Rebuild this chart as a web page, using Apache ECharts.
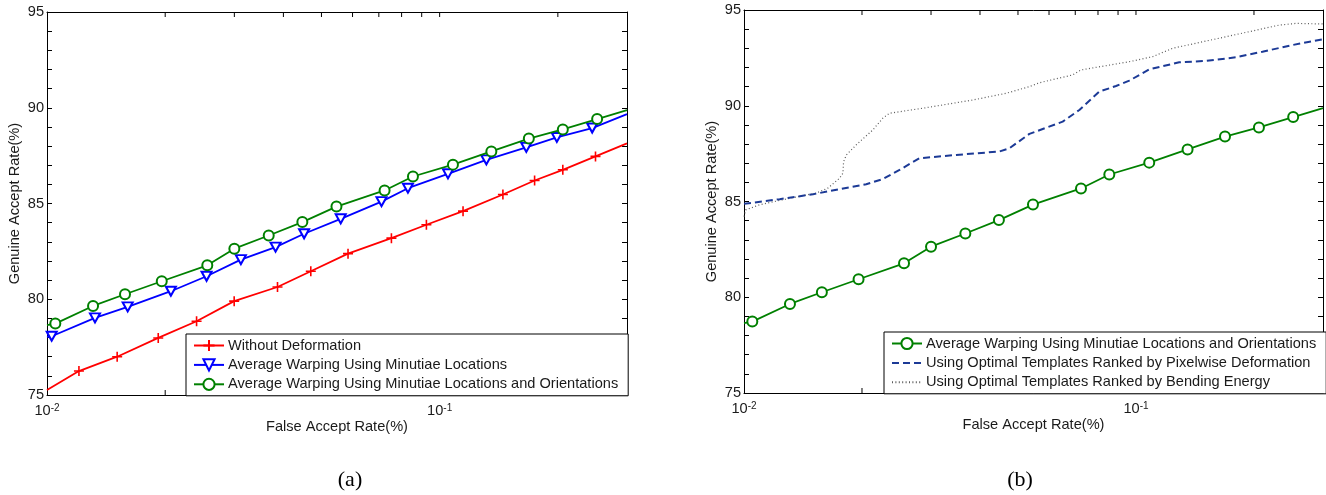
<!DOCTYPE html>
<html>
<head>
<meta charset="utf-8">
<script src="https://cdn.jsdelivr.net/npm/echarts@6/dist/echarts.min.js"></script>
<style>
html,body{margin:0;padding:0;background:#fff;}
#chart{width:1326px;height:495px;}
</style>
</head>
<body>
<div id="chart"></div>
<script>
// ---------- data ----------
const nameRed = 'Without Deformation';
const nameBlue = 'Average Warping Using Minutiae Locations';
const nameGreen = 'Average Warping Using Minutiae Locations and Orientations';
const nameDash = 'Using Optimal Templates Ranked by Pixelwise Deformation';
const nameDot = 'Using Optimal Templates Ranked by Bending Energy';

const farRed = [0.01, 0.01206, 0.01509, 0.0192, 0.02404, 0.02997, 0.03864, 0.04697, 0.05843, 0.07536, 0.09252, 0.1147, 0.1449, 0.1745, 0.2059, 0.2494, 0.3];
const garRed = [75.26, 76.25, 77.0, 77.98, 78.85, 79.9, 80.64, 81.46, 82.38, 83.19, 83.89, 84.6, 85.47, 86.2, 86.76, 87.46, 88.14];

const farBlue = [0.01, 0.01028, 0.01325, 0.01605, 0.02068, 0.02549, 0.03117, 0.0382, 0.04516, 0.05598, 0.0711, 0.08302, 0.105, 0.1315, 0.1662, 0.1988, 0.2446, 0.3];
const garBlue = [78.03, 78.07, 79.03, 79.6, 80.42, 81.2, 82.07, 82.72, 83.42, 84.2, 85.1, 85.8, 86.55, 87.28, 87.93, 88.45, 88.94, 89.67];

const farGreen = [0.01, 0.0105, 0.0131, 0.0158, 0.0196, 0.0256, 0.0300, 0.0367, 0.0447, 0.0546, 0.0724, 0.0855, 0.1081, 0.1354, 0.1687, 0.2059, 0.2518, 0.3];
const garGreen = [78.65, 78.73, 79.65, 80.26, 80.94, 81.77, 82.64, 83.33, 84.03, 84.84, 85.68, 86.41, 87.03, 87.72, 88.39, 88.87, 89.41, 89.88];

const farDash = [0.01, 0.01233, 0.015, 0.01754, 0.0205, 0.0226, 0.02494, 0.02803, 0.03477, 0.04483, 0.04754, 0.05347, 0.06502, 0.07171, 0.08062, 0.08894, 0.09615, 0.1081, 0.1289, 0.1508, 0.1798, 0.2102, 0.2506, 0.3];
const garDash = [84.88, 85.12, 85.38, 85.64, 85.9, 86.17, 86.65, 87.26, 87.43, 87.61, 87.78, 88.53, 89.17, 89.78, 90.74, 91.03, 91.31, 91.9, 92.27, 92.34, 92.53, 92.82, 93.17, 93.47];

const farDot = [0.01, 0.0101, 0.01096, 0.01308, 0.01529, 0.01637, 0.01754, 0.01788, 0.01795, 0.01824, 0.01934, 0.02132, 0.0226, 0.02351, 0.02858, 0.03834, 0.04664, 0.05347, 0.05669, 0.06895, 0.07243, 0.09615, 0.1102, 0.124, 0.1729, 0.2318, 0.2557, 0.3];
const garDot = [84.21, 84.56, 84.83, 85.17, 85.44, 85.7, 86.22, 86.48, 87.08, 87.43, 87.96, 88.74, 89.35, 89.61, 89.87, 90.3, 90.65, 91.0, 91.2, 91.61, 91.87, 92.3, 92.56, 93.0, 93.64, 94.21, 94.3, 94.27];

const xMin = 0.01, xMax = 0.3;
const yMin = 75, yMax = 95, yStep = 5;
const xTickValues = [0.02, 0.03, 0.04, 0.05, 0.06, 0.07, 0.08, 0.09, 0.1, 0.2];

// ---------- helpers ----------
const FONT = '"Liberation Sans", Arial, Helvetica, sans-serif';
const FS = 14.6;
const TXT = '#1a1a1a';

function pairs(xs, ys, endsPlain) {
  return xs.map((x, i) => {
    if (endsPlain && (i === 0 || i === xs.length - 1)) {
      return { value: [x, ys[i]], symbol: 'none' };
    }
    return [x, ys[i]];
  });
}

function logLabel(v) {
  const e = Math.log10(v);
  const r = Math.round(e);
  if (Math.abs(e - r) < 1e-6) return '{b|10}{s|' + r + '}';
  return '';
}

function tickRender(params, api) {
  const x = api.value(0);
  const b = api.coord([x, yMin]);
  const t = api.coord([x, yMax]);
  return {
    type: 'group',
    children: [
      { type: 'line', shape: { x1: b[0], y1: b[1], x2: b[0], y2: b[1] - 5 }, style: { stroke: '#000', lineWidth: 1 } },
      { type: 'line', shape: { x1: t[0], y1: t[1], x2: t[0], y2: t[1] + 5 }, style: { stroke: '#000', lineWidth: 1 } }
    ]
  };
}

function xAxes(gridIndex) {
  return [
    {
      type: 'log', logBase: 10, gridIndex: gridIndex, min: xMin, max: xMax, position: 'bottom',
      axisLine: { show: true, lineStyle: { color: '#000', width: 1 } },
      axisTick: { show: false },
      splitLine: { show: false },
      axisLabel: {
        show: true, margin: 8, formatter: logLabel, color: TXT,
        rich: {
          b: { fontSize: FS, fontFamily: FONT, color: TXT, lineHeight: 26, verticalAlign: 'top' },
          s: { fontSize: 10, fontFamily: FONT, color: TXT, lineHeight: 10, verticalAlign: 'top' }
        }
      },
      name: 'False Accept Rate(%)', nameLocation: 'middle', nameGap: 24, nameMoveOverlap: false,
      nameTextStyle: { fontSize: FS, fontFamily: FONT, color: TXT }
    },
    {
      type: 'log', logBase: 10, gridIndex: gridIndex, min: xMin, max: xMax, position: 'top',
      axisLine: { show: true, lineStyle: { color: '#000', width: 1 } },
      axisTick: { show: false }, axisLabel: { show: false }, splitLine: { show: false }
    }
  ];
}

function yAxes(gridIndex) {
  const common = {
    type: 'value', gridIndex: gridIndex, min: yMin, max: yMax, interval: yStep,
    axisLine: { show: true, lineStyle: { color: '#000', width: 1 } },
    axisTick: { show: true, inside: true, length: 5, lineStyle: { color: '#000', width: 1 } },
    minorTick: { show: true, splitNumber: 5, length: 5, lineStyle: { color: '#000', width: 1 } },
    splitLine: { show: false }, minorSplitLine: { show: false }
  };
  return [
    Object.assign({}, common, {
      position: 'left',
      axisLabel: { show: true, margin: 3, fontSize: FS, fontFamily: FONT, color: TXT },
      name: 'Genuine Accept Rate(%)', nameLocation: 'middle', nameGap: 25, nameRotate: 90,
      nameTextStyle: { fontSize: FS, fontFamily: FONT, color: TXT }
    }),
    Object.assign({}, common, { position: 'right', axisLabel: { show: false } })
  ];
}

function legendCfg(items, left, top) {
  return {
    data: items, orient: 'vertical', left: left, top: top,
    itemWidth: 30, itemHeight: 14, itemGap: 4.4,
    padding: [4, 10, 4, 7],
    borderColor: '#000', borderWidth: 1, borderRadius: 0, backgroundColor: '#fff',
    selectedMode: false,
    textStyle: { fontSize: FS, fontFamily: FONT, color: TXT, padding: [0, 0, 0, -1] }
  };
}

const plusPath = 'path://M5 0 L5 10 M0 5 L10 5';

function seriesRed(xi, yi) {
  return { name: nameRed, type: 'line', xAxisIndex: xi, yAxisIndex: yi, data: pairs(farRed, garRed, true),
    symbol: plusPath, symbolSize: 10, showAllSymbol: true, z: 3,
    lineStyle: { color: '#ff0000', width: 1.8 },
    itemStyle: { color: '#ff0000', borderColor: '#ff0000', borderWidth: 1.6 } };
}
function seriesBlue(xi, yi) {
  return { name: nameBlue, type: 'line', xAxisIndex: xi, yAxisIndex: yi, data: pairs(farBlue, garBlue, true),
    symbol: 'emptyTriangle', symbolRotate: 180, symbolSize: [10, 9], showAllSymbol: true, z: 3,
    lineStyle: { color: '#0000ff', width: 1.8 },
    itemStyle: { color: '#0000ff', borderColor: '#0000ff', borderWidth: 1.4 } };
}
function seriesGreen(xi, yi) {
  return { name: nameGreen, type: 'line', xAxisIndex: xi, yAxisIndex: yi, data: pairs(farGreen, garGreen, true),
    symbol: 'emptyCircle', symbolSize: 10, showAllSymbol: true, z: 4,
    lineStyle: { color: '#008000', width: 1.8 },
    itemStyle: { color: '#008000', borderColor: '#008000', borderWidth: 1.6 } };
}

const option = {
  animation: false,
  backgroundColor: '#fff',
  textStyle: { fontFamily: FONT },
  grid: [
    { left: 47, top: 12, width: 580, height: 383, containLabel: false },
    { left: 744, top: 10, width: 581, height: 383, containLabel: false }
  ],
  xAxis: [].concat(xAxes(0), xAxes(1)),
  yAxis: [].concat(yAxes(0), yAxes(1)),
  legend: [
    legendCfg([nameRed, nameBlue, nameGreen], 186, 334),
    legendCfg([nameGreen,
      { name: nameDash, itemStyle: { opacity: 0 } },
      { name: nameDot, itemStyle: { opacity: 0 } }], 884, 332)
  ],
  graphic: [
    { type: 'text', style: { text: '(a)', x: 350, y: 480, align: 'center', verticalAlign: 'middle', font: '22px "Liberation Serif", "Times New Roman", serif', fill: '#000' } },
    { type: 'text', style: { text: '(b)', x: 1020, y: 480, align: 'center', verticalAlign: 'middle', font: '22px "Liberation Serif", "Times New Roman", serif', fill: '#000' } }
  ],
  series: [
    seriesRed(0, 0),
    seriesBlue(0, 0),
    seriesGreen(0, 0),
    { type: 'custom', xAxisIndex: 0, yAxisIndex: 0, data: xTickValues.map(v => [v, yMin]), renderItem: tickRender, silent: true, z: 1, clip: false },
    seriesGreen(2, 2),
    { name: nameDash, type: 'line', xAxisIndex: 2, yAxisIndex: 2, data: pairs(farDash, garDash, false),
      symbol: 'none', z: 3,
      lineStyle: { color: '#1c3a96', width: 2, type: [7, 4] },
      itemStyle: { color: '#1c3a96' } },
    { name: nameDot, type: 'line', xAxisIndex: 2, yAxisIndex: 2, data: pairs(farDot, garDot, false),
      symbol: 'none', z: 2,
      lineStyle: { color: '#5a5a5a', width: 1.2, type: [1, 2.4] },
      itemStyle: { color: '#5a5a5a' } },
    { type: 'custom', xAxisIndex: 2, yAxisIndex: 2, data: xTickValues.map(v => [v, yMin]), renderItem: tickRender, silent: true, z: 1, clip: false }
  ]
};

const chart = echarts.init(document.getElementById('chart'), null, { renderer: 'canvas' });
chart.setOption(option);
</script>
</body>
</html>
